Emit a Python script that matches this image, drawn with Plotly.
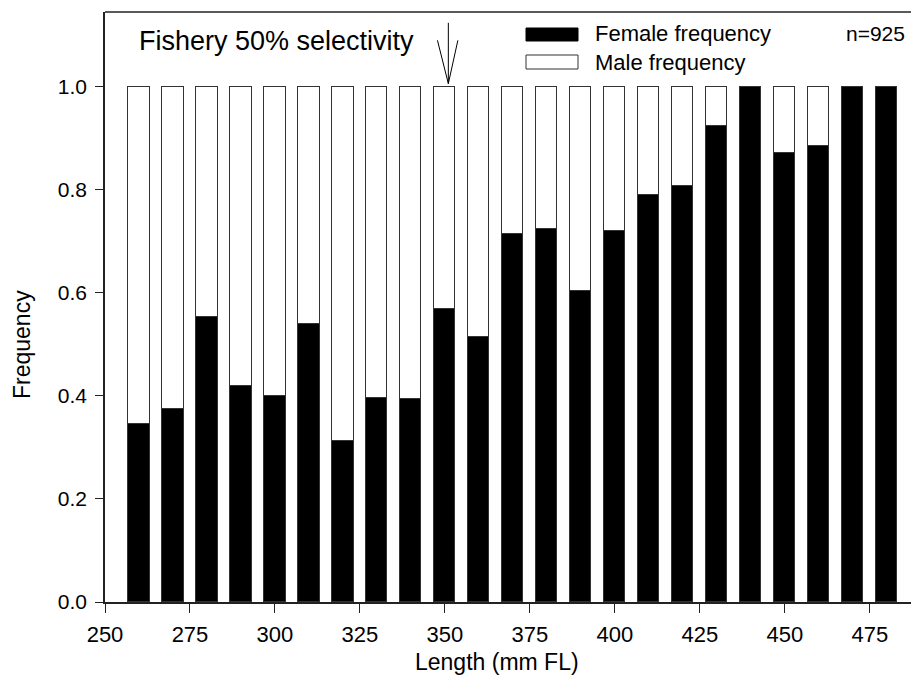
import plotly.graph_objects as go

lengths = [260, 270, 280, 290, 300, 310, 320, 330, 340, 350, 360, 370,
           380, 390, 400, 410, 420, 430, 440, 450, 460, 470, 480]
female_freq = [0.345, 0.374, 0.553, 0.419, 0.399, 0.540, 0.312, 0.396, 0.394,
               0.568, 0.514, 0.714, 0.723, 0.604, 0.720, 0.790, 0.807, 0.924,
               1.0, 0.871, 0.885, 1.0, 1.0]
male_freq = [round(1 - f, 3) for f in female_freq]
selectivity_50 = 351
n_label = "n=925"
x_ticks = [250, 275, 300, 325, 350, 375, 400, 425, 450, 475]
y_ticks = [0.0, 0.2, 0.4, 0.6, 0.8, 1.0]

FONT = "Arial, Liberation Sans, sans-serif"
W, H = 911, 681
L, T, B = 105, 12, 79
XR = [250, 487.1]
YR = [0, 1.145]

fig = go.Figure()
fig.add_trace(go.Bar(x=lengths, y=female_freq, width=6.2, name="Female frequency",
                     marker=dict(color="black", line=dict(color="#333333", width=1))))
fig.add_trace(go.Bar(x=lengths, y=male_freq, width=6.2, name="Male frequency",
                     marker=dict(color="white", line=dict(color="#333333", width=1.2))))

# arrow for 50% selectivity
ax = selectivity_50
arrow_lines = [
    ((ax, 1.124), (ax, 1.006)),
    ((ax - 3.2, 1.09), (ax, 1.006)),
    ((ax + 2.8, 1.09), (ax, 1.006)),
]
for (x0, y0), (x1, y1) in arrow_lines:
    fig.add_shape(type="line", xref="x", yref="y", x0=x0, y0=y0, x1=x1, y1=y1,
                  line=dict(color="black", width=1))

# top frame line
fig.add_shape(type="line", xref="paper", yref="paper", x0=0, x1=1, y0=1, y1=1,
              line=dict(color="#222222", width=1.5))

def pxp(px):
    return (px - L) / (W - L)

def pyp(py):
    return (H - B - py) / (H - B - T)

# legend
fig.add_shape(type="rect", xref="paper", yref="paper", x0=pxp(526), x1=pxp(578),
              y0=pyp(41), y1=pyp(28), fillcolor="black", line=dict(color="black", width=1))
fig.add_shape(type="rect", xref="paper", yref="paper", x0=pxp(526), x1=pxp(578),
              y0=pyp(69), y1=pyp(55), fillcolor="white", line=dict(color="#333333", width=1))

def txt(px, py, s, size, anchor="left", angle=0):
    fig.add_annotation(x=pxp(px), y=pyp(py), xref="paper", yref="paper", text=s,
                       showarrow=False, xanchor=anchor, yanchor="middle", textangle=angle,
                       font=dict(family=FONT, size=size, color="black"))

txt(593, 33, "Female frequency", 22)
txt(593, 62, "Male frequency", 22)
txt(907, 34, n_label, 21, anchor="right")
txt(137, 41, "Fishery 50% selectivity", 27)

# axis titles
txt(497, 662, "Length (mm FL)", 23, anchor="center")
txt(22, 345, "Frequency", 23, anchor="center", angle=-90)

fig.update_layout(
    width=W, height=H, barmode="stack", showlegend=False,
    plot_bgcolor="white", paper_bgcolor="white",
    margin=dict(l=L, r=0, t=T, b=B, pad=0),
    bargap=0,
    font=dict(family=FONT, size=20, color="black"),
)
fig.update_xaxes(range=XR, tickvals=x_ticks, ticktext=[str(v) for v in x_ticks],
                 showgrid=False, zeroline=False, showline=True, linecolor="#222222",
                 linewidth=1.5, ticks="outside", ticklen=9, tickwidth=1.2,
                 tickcolor="#222222", ticklabelstandoff=3,
                 tickfont=dict(family=FONT, size=22, color="black"))
fig.update_yaxes(range=YR, tickvals=y_ticks, ticktext=[f"{v:.1f}" for v in y_ticks],
                 showgrid=False, zeroline=False, showline=True, linecolor="#222222",
                 linewidth=1.5, ticks="outside", ticklen=8, tickwidth=1.2,
                 tickcolor="#222222", ticklabelstandoff=4,
                 tickfont=dict(family=FONT, size=21, color="black"))

fig.write_html("out.html")
